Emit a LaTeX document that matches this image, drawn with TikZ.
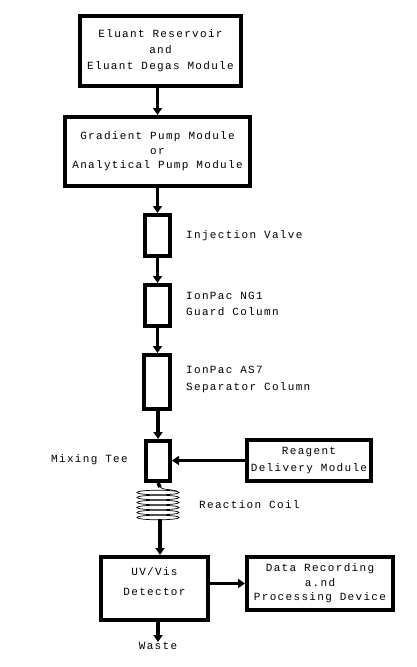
\documentclass[tikz,border=0pt]{standalone}
\usepackage{fontspec}
\newfontfamily\pix[LetterSpace=12]{Liberation Mono}
\usetikzlibrary{arrows.meta}
\begin{document}
\begin{tikzpicture}[x=1pt,y=-1pt,
  box/.style={draw=black,line width=4pt,fill=white,inner sep=0pt,align=center,font=\pix\fontsize{11pt}{12pt}\selectfont},
  txt/.style={inner sep=0pt,align=center,font=\pix\fontsize{11pt}{12pt}\selectfont},
  lbl/.style={inner sep=0pt,align=left,anchor=west,font=\pix\fontsize{11pt}{12pt}\selectfont},
  tube/.style={line width=3.5pt},
  arr/.style={line width=3.5pt,-{Triangle[width=9pt,length=7pt]}},
  coil/.style={line width=0.7pt}]
\useasboundingbox (0,0) rectangle (416,667);
% boxes
\node[box,minimum width=161pt,minimum height=70pt] (res) at (160.5,51) {Eluant Reservoir\\[4pt]and\\[4pt]Eluant Degas Module};
\node[box,minimum width=185pt,minimum height=69pt] (pump) at (157.5,151.5) {Gradient Pump Module\\[2.5pt]or\\[2.5pt]Analytical Pump Module};
\node[box,minimum width=25pt,minimum height=41pt] (inj) at (157.5,235.5) {};
\node[box,minimum width=25pt,minimum height=41pt] (guard) at (157.5,305.5) {};
\node[box,minimum width=26pt,minimum height=54pt] (sep) at (157,382) {};
\node[box,minimum width=24pt,minimum height=40pt] (tee) at (158,461) {};
\node[box,minimum width=124pt,minimum height=41pt] (reag) at (309,460.5) {Reagent\\[5pt]Delivery Module};
\node[box,minimum width=107pt,minimum height=63pt] (det) at (154.5,588.5) {};
\node[txt] (dett) at (154.5,582) {UV/Vis\\[8pt]Detector};
\node[box,minimum width=146pt,minimum height=53pt] (data) at (320,583.5) {Data Recording\\[2.5pt]a.nd\\[2.5pt]Processing Device};
% labels
\node[lbl] (linj) at (186,236) {Injection Valve};
\node[lbl] (lguard) at (186,304) {IonPac NG1\\[4pt]Guard Column};
\node[lbl] (lsep) at (186,379) {IonPac AS7\\[5pt]Separator Column};
\node[lbl] (ltee) at (51,460) {Mixing Tee};
\node[lbl] (lcoil) at (199,505) {Reaction Coil};
\node[txt,anchor=north] (waste) at (158,642) {Waste};
% coil
\coordinate (coiltop) at (160,487);
\coordinate (coilbot) at (160,519);
\foreach \i in {0,...,5}{
  \draw[coil] (158,{492.5+5*\i}) ellipse [x radius=21pt, y radius=2.3pt];
}
\draw[coil] (coiltop) .. controls (162,490) and (170,489) .. (177,491);
% connectors
\draw[arr] (res.south -| inj.center) -- (pump.north -| inj.center);
\draw[arr] (pump.south -| inj.center) -- (inj.north);
\draw[arr] (inj.south) -- (guard.north);
\draw[arr] (guard.south) -- (sep.north -| guard.center);
\draw[arr] (sep.south -| tee.center) -- (tee.north);
\draw[arr] (reag.west) -- (tee.east |- reag.west);
\draw[tube] (tee.south) -- (coiltop);
\draw[arr] (coilbot) -- (coilbot |- det.north);
\draw[arr] (det.east |- data.west) -- (data.west);
\draw[arr] (det.south -| waste.north) -- (waste.north);
\end{tikzpicture}
\end{document}
